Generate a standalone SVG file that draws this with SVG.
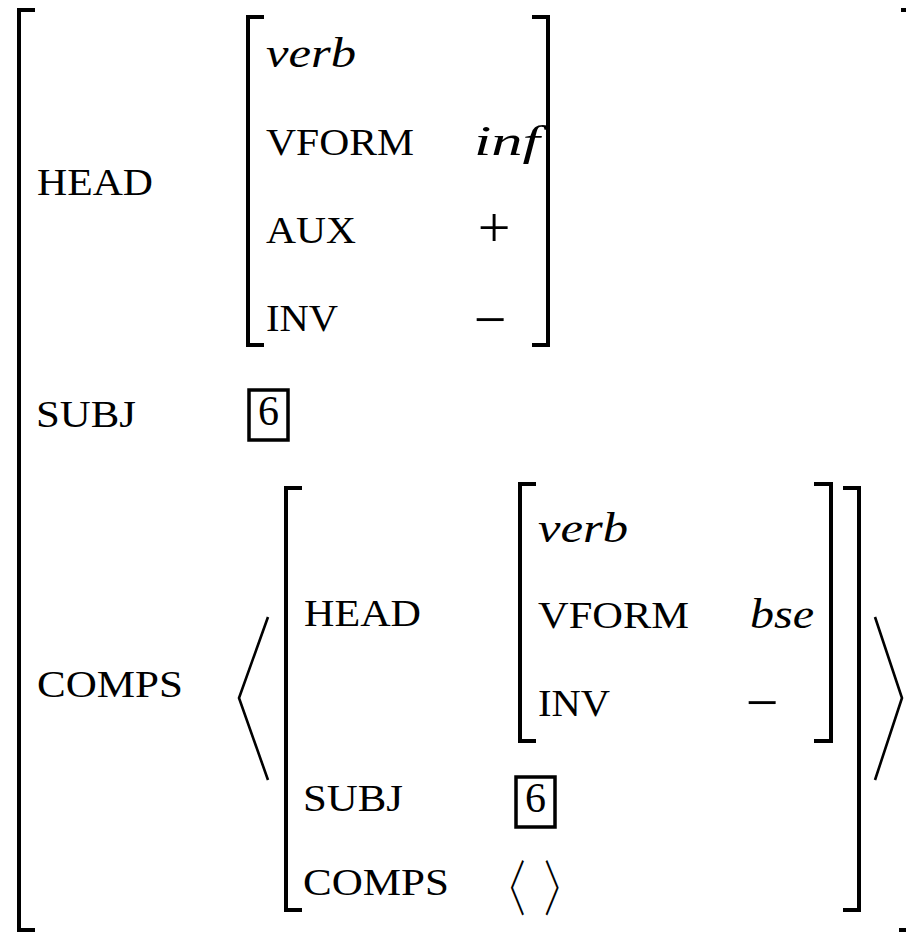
<svg xmlns="http://www.w3.org/2000/svg" width="906" height="933" viewBox="0 0 906 933">
<style>
.lab { font-family: "Liberation Serif", "DejaVu Serif", serif; font-size: 38px; fill: #000; }
.val { font-family: "Liberation Serif", "DejaVu Serif", serif; font-style: italic; font-size: 42px; fill: #000; }
.op { font-family: "Liberation Serif", "DejaVu Serif", serif; font-size: 58px; fill: #000; text-anchor: middle; }
.num { font-family: "Liberation Serif", "DejaVu Serif", serif; font-size: 42px; fill: #000; text-anchor: middle; }
.ang2 { font-family: "Noto Sans CJK SC", "DejaVu Sans", sans-serif; font-weight: 300; font-size: 50px; fill: #000; text-anchor: middle; }
.br { fill: none; stroke: #000; stroke-width: 4; stroke-linecap: butt; stroke-linejoin: miter; }
.ang { fill: none; stroke: #000; stroke-width: 2.6; stroke-linejoin: miter; }
.box { fill: none; stroke: #000; stroke-width: 3.5; }
</style>
<rect width="906" height="933" fill="#fff"/>
<g id="outer">
  <path class="br" d="M35 10 H19 V930 H35"/>
  <path class="br" d="M901 10 H918 V930 H899"/>
  <text class="lab" x="37" y="195" textLength="116" lengthAdjust="spacingAndGlyphs">HEAD</text>
  <text class="lab" x="36" y="427" textLength="100" lengthAdjust="spacingAndGlyphs">SUBJ</text>
  <text class="lab" x="37" y="697" textLength="146" lengthAdjust="spacingAndGlyphs">COMPS</text>
</g>
<g id="head-avm">
  <path class="br" d="M264 17 H248 V345 H264"/>
  <path class="br" d="M532 17 H548 V345 H532"/>
  <text class="val" x="266" y="67" textLength="90" lengthAdjust="spacingAndGlyphs">verb</text>
  <text class="lab" x="266" y="155" textLength="148" lengthAdjust="spacingAndGlyphs">VFORM</text>
  <text class="val" x="474" y="155" textLength="66" lengthAdjust="spacingAndGlyphs">inf</text>
  <text class="lab" x="266" y="243" textLength="90" lengthAdjust="spacingAndGlyphs">AUX</text>
  <text class="op" x="494" y="247">+</text>
  <text class="lab" x="266" y="331" textLength="72" lengthAdjust="spacingAndGlyphs">INV</text>
  <text class="op" x="490" y="339">−</text>
</g>
<g id="subj-tag">
  <rect class="box" x="249" y="390" width="39" height="50"/>
  <text class="num" x="268.5" y="425">6</text>
</g>
<g id="comps-list">
  <path class="ang" d="M268 617 L239 698 L268 780"/>
  <path class="ang" d="M875 617 L902 698 L875 780"/>
  <path class="br" d="M302 488 H286 V910 H302"/>
  <path class="br" d="M843 488 H859 V910 H843"/>
  <text class="lab" x="304" y="626" textLength="117" lengthAdjust="spacingAndGlyphs">HEAD</text>
  <text class="lab" x="303" y="811" textLength="100" lengthAdjust="spacingAndGlyphs">SUBJ</text>
  <text class="lab" x="303" y="895" textLength="146" lengthAdjust="spacingAndGlyphs">COMPS</text>
</g>
<g id="comps-head-avm">
  <path class="br" d="M536 484 H520 V741 H536"/>
  <path class="br" d="M814 484 H831 V741 H814"/>
  <text class="val" x="538" y="542" textLength="90" lengthAdjust="spacingAndGlyphs">verb</text>
  <text class="lab" x="538" y="628" textLength="151" lengthAdjust="spacingAndGlyphs">VFORM</text>
  <text class="val" x="750" y="628" textLength="64" lengthAdjust="spacingAndGlyphs">bse</text>
  <text class="lab" x="538" y="716" textLength="72" lengthAdjust="spacingAndGlyphs">INV</text>
  <text class="op" x="762" y="722">−</text>
</g>
<g id="comps-subj-tag">
  <rect class="box" x="516" y="777" width="39" height="50"/>
  <text class="num" x="535.5" y="812">6</text>
</g>
<g id="comps-empty">
  <text class="ang2" transform="translate(507 911) scale(0.75 1.2)">〈</text>
  <text class="ang2" transform="translate(562.5 911) scale(0.75 1.2)">〉</text>
</g>
</svg>
